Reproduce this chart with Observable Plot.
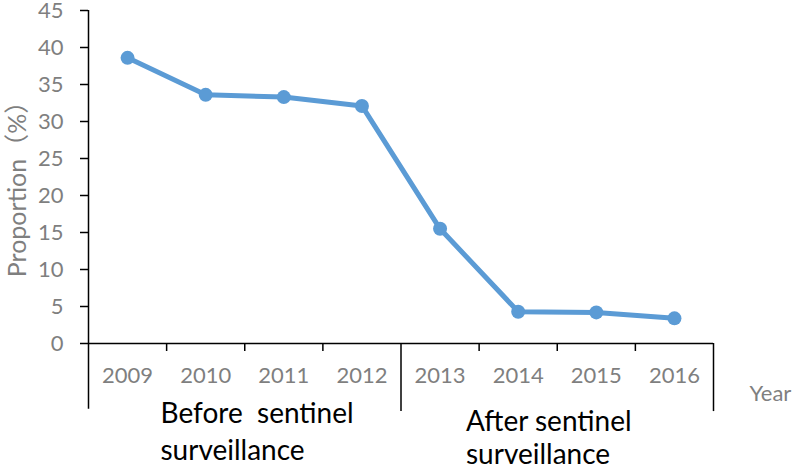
<!DOCTYPE html>
<html>
<head>
<meta charset="utf-8">
<script src="https://cdn.jsdelivr.net/npm/d3@7"></script>
<script src="https://cdn.jsdelivr.net/npm/@observablehq/plot@0.6"></script>
<style>
  html, body { margin: 0; padding: 0; background: #fff; }
  #chart { width: 800px; height: 468px; }
</style>
</head>
<body>
<div id="chart"></div>
<script>
const years = [2009, 2010, 2011, 2012, 2013, 2014, 2015, 2016];
const proportion = [38.6, 33.6, 33.3, 32.1, 15.5, 4.3, 4.2, 3.4];
const yTicks = [0, 5, 10, 15, 20, 25, 30, 35, 40, 45];
const groupLabels = ["Before  sentinel\nsurveillance", "After sentinel\nsurveillance"];
const groupStart = [2008.5, 2012.5];
const groupEdges = [2008.5, 2012.5, 2016.5];
const innerEdges = [2009.5, 2010.5, 2011.5, 2013.5, 2014.5, 2015.5];

const data = years.map((y, i) => ({year: y, value: proportion[i]}));
const blue = "#5b9bd5";
const gray = "#7f7f7f";

const chart = Plot.plot({
  width: 800,
  height: 468,
  marginLeft: 88,
  marginRight: 87,
  marginTop: 10,
  marginBottom: 125,
  style: {fontFamily: "Lato, 'Noto Sans CJK SC', sans-serif", color: "black", background: "white", overflow: "visible"},
  x: {domain: [groupEdges[0], groupEdges[2]], axis: null},
  y: {domain: [0, 45], axis: null},
  marks: [
    Plot.axisY({ticks: yTicks, tickSize: 8, tickPadding: 17, fontSize: 22, fill: gray, stroke: "black", strokeWidth: 1.5, label: null, tickFormat: d => String(d)}),
    Plot.axisX({ticks: years, tickSize: 0, tickPadding: 24, fontSize: 22, fill: gray, label: null, tickFormat: d => String(d)}),
    Plot.axisX({ticks: innerEdges, tickSize: 8, stroke: "black", strokeWidth: 1.5, label: null, tickFormat: () => ""}),
    Plot.ruleY([0], {stroke: "black", strokeWidth: 1.5}),
    Plot.ruleX([groupEdges[0]], {y1: 45, y2: -8.9, stroke: "black", strokeWidth: 1.5}),
    Plot.ruleX(groupEdges.slice(1), {y1: 0, y2: -9.2, stroke: "black", strokeWidth: 1.5}),
    Plot.line(data, {x: "year", y: "value", stroke: blue, strokeWidth: 5, strokeLinejoin: "round"}),
    Plot.dot(data, {x: "year", y: "value", r: 7, fill: blue, stroke: "none"}),
    Plot.text([groupLabels[0]], {x: [groupStart[0]], frameAnchor: "bottom", textAnchor: "start", lineAnchor: "middle", dx: 72, dy: 86, fontSize: 28, lineHeight: 1.32, fill: "black"}),
    Plot.text([groupLabels[1]], {x: [groupStart[1]], frameAnchor: "bottom", textAnchor: "start", lineAnchor: "middle", dx: 65, dy: 93, fontSize: 28, lineHeight: 1.18, fill: "black"}),
    Plot.text(["Year"], {frameAnchor: "bottom-right", textAnchor: "start", lineAnchor: "middle", dx: 36, dy: 50, fontSize: 22, fill: gray}),
    Plot.text(["Proportion（%）"], {frameAnchor: "left", textAnchor: "middle", lineAnchor: "middle", rotate: -90, dx: -71, dy: 6, fontSize: 25, fill: gray})
  ]
});
document.getElementById("chart").appendChild(chart);
</script>
</body>
</html>
